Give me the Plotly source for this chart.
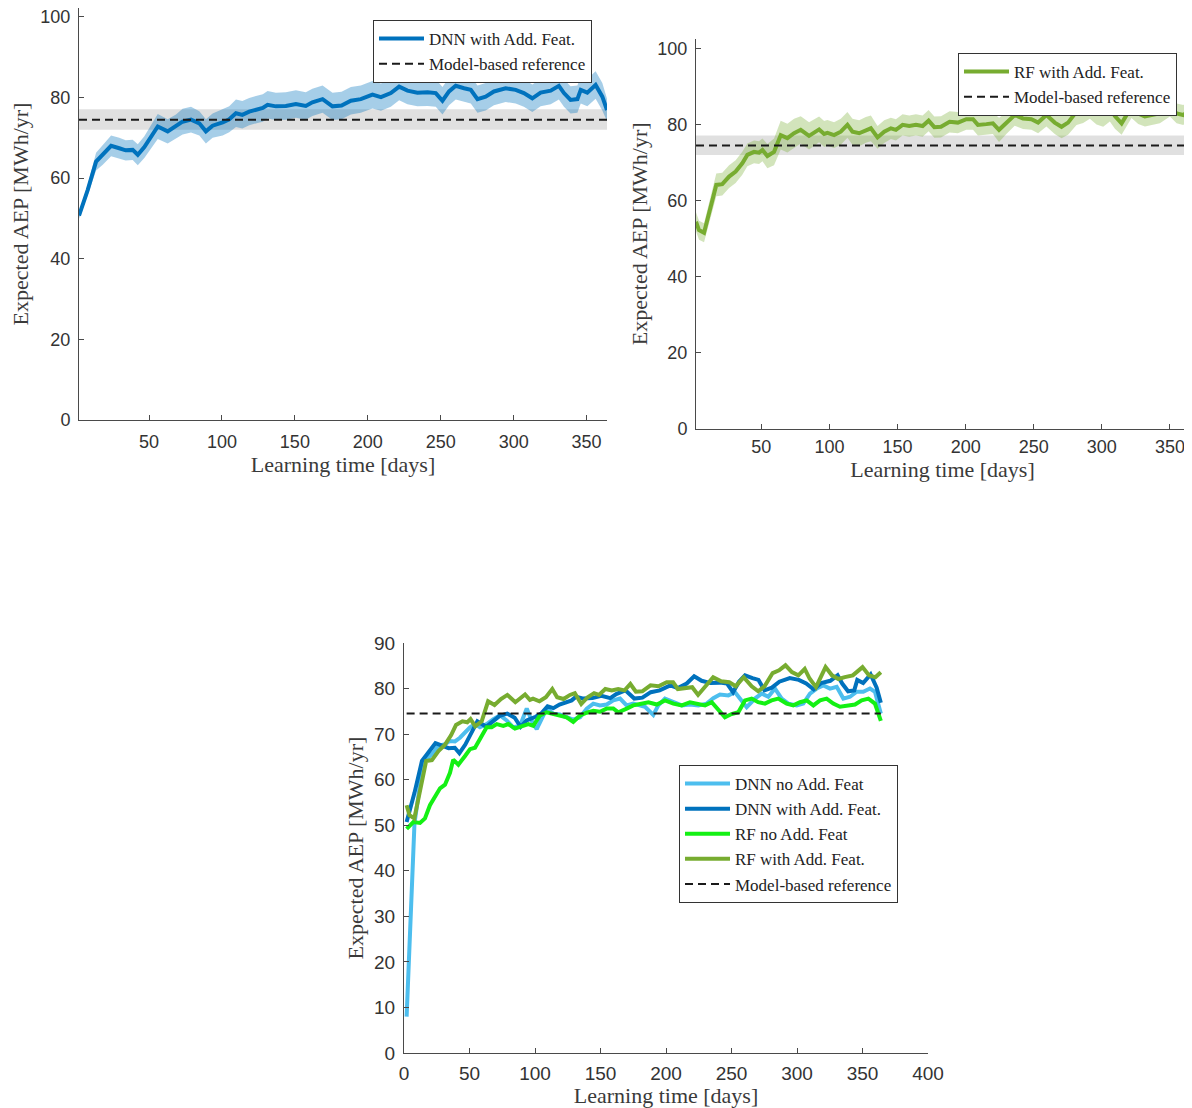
import plotly.graph_objects as go

# page is 1192x1108; the browser body adds an 8 px margin before the plot div
PAGE_W, PAGE_H = 1192, 1108
OFF = 8
W, H = PAGE_W - OFF, PAGE_H - OFF

# ---------------- data ----------------
days_dnn_add = [2, 8, 13.7, 18.3, 24, 29.6, 34, 38.8, 42.3, 46.8,
                51.4, 56, 62.8, 68.5, 73, 78.8, 84.5, 89, 93.6, 100.5,
                105, 109.6, 114, 118.7, 124.4, 128, 131.3, 137, 143.8, 150.7,
                157.5, 162, 169, 175.8, 182, 188.4, 195.2, 203.2, 209, 215.8,
                221.5, 227.2, 234, 241, 246.6, 251.2, 255.7, 260.3, 266, 270.6,
                275.2, 280.8, 286.5, 294.5, 301.4, 307, 312.8, 318.5, 325.4, 331,
                334.5, 339, 343.7, 346, 350.5, 356.2, 360.8, 364]
aep_dnn_add = [50.7, 57.1, 64.1, 65.8, 68.0, 67.4, 66.9, 67.0, 65.8, 67.7,
               70.3, 72.8, 71.6, 72.8, 74.0, 74.5, 73.6, 71.6, 73.0, 73.8,
               74.6, 76.1, 75.7, 76.5, 77.1, 77.4, 78.2, 77.8, 77.9, 78.4,
               77.9, 78.8, 79.6, 77.8, 78.0, 79.2, 79.6, 80.7, 80.1, 81.1,
               82.7, 81.7, 81.2, 81.3, 81.1, 79.2, 81.5, 82.9, 82.3, 81.9,
               79.6, 80.2, 81.5, 82.3, 81.9, 81.1, 79.8, 81.2, 81.7, 82.9,
               81.1, 79.4, 79.6, 81.9, 81.2, 83.1, 80.2, 76.9]
spread_dnn_add = [0.8, 1.3, 2.2, 2.5, 2.6, 2.6, 2.5, 2.5, 2.6, 2.7,
                  2.9, 3.1, 3.0, 3.0, 3.2, 3.2, 3.0, 3.0, 3.0, 3.2,
                  3.2, 3.4, 3.4, 3.4, 3.4, 3.4, 3.4, 3.4, 3.4, 3.4,
                  3.4, 3.4, 3.4, 3.4, 3.4, 3.4, 3.4, 3.4, 3.4, 3.4,
                  3.4, 3.4, 3.4, 3.4, 3.4, 3.4, 3.4, 3.4, 3.4, 3.4,
                  3.4, 3.4, 3.4, 3.4, 3.4, 3.4, 3.4, 3.4, 3.4, 3.4,
                  3.4, 3.4, 3.4, 3.4, 3.4, 3.4, 3.4, 2.8]

days_rf_add = [2, 4.2, 7.9, 11.5, 16.9, 21.3, 26.3, 31.1, 36, 39.7,
               44.6, 48.3, 50.8, 54.4, 59.3, 64.2, 69.1, 74, 78.9, 85,
               92.4, 96.1, 98.5, 103.4, 108.3, 113.2, 116.9, 121.8, 126.7, 130.4,
               135.3, 140.2, 145.1, 148.8, 153.7, 158.6, 163.5, 168.4, 172.8, 177,
               181.9, 188.2, 194.3, 200.5, 205.4, 209, 215.2, 220, 224.5, 229.9,
               236, 242.1, 248.3, 253.2, 259.3, 265.4, 270.4, 275.2, 281.4, 286.3,
               291.2, 296.1, 301, 305.9, 309.6, 314.5, 321.8, 326.7, 331.6, 336.5,
               342.6, 350, 354.9, 359.8, 364]
aep_rf_add = [54.4, 52.2, 51.5, 56.6, 64.1, 64.3, 66.3, 67.6, 69.8, 72.0,
              72.8, 72.6, 73.3, 71.7, 72.8, 77.2, 76.4, 77.7, 78.6, 77.0,
              78.7, 77.5, 77.8, 77.2, 78.1, 79.9, 78.1, 77.7, 78.6, 79.0,
              76.6, 78.1, 79.0, 78.6, 79.9, 79.6, 79.9, 79.6, 81.0, 79.3,
              79.4, 80.7, 80.5, 81.4, 81.4, 79.9, 80.1, 80.3, 78.6, 80.3,
              82.5, 81.6, 81.4, 80.5, 82.5, 80.5, 79.4, 80.5, 83.4, 84.0,
              85.1, 83.6, 82.9, 84.3, 82.2, 80.3, 84.7, 82.9, 82.1, 82.5,
              82.9, 84.7, 82.9, 82.5, 83.6]
spread_rf_add = [2.5, 2.5, 2.5, 2.8, 3.0, 3.0, 3.0, 3.0, 3.0, 3.0,
                 3.0, 3.0, 3.0, 3.2, 3.5, 3.8, 3.8, 3.8, 3.6, 3.6,
                 3.4, 3.4, 3.4, 3.4, 3.4, 3.4, 3.4, 3.4, 3.4, 3.4,
                 3.0, 3.0, 2.8, 2.8, 2.8, 2.8, 2.8, 2.8, 2.8, 2.8,
                 2.8, 2.8, 2.8, 2.8, 2.8, 2.8, 2.8, 2.8, 3.2, 2.8,
                 2.8, 2.8, 2.8, 2.8, 3.0, 3.0, 3.0, 3.2, 3.5, 3.6,
                 3.6, 3.6, 3.5, 3.5, 3.3, 3.0, 3.0, 2.8, 2.6, 2.6,
                 2.6, 2.6, 2.6, 2.6, 2.6]

days_dnn_no = [2, 8, 10.9, 14.7, 18.5, 22.4, 26.2, 31.3, 35.1, 38.9,
               42.7, 46.6, 50.4, 54.2, 58, 63.1, 68.2, 73.3, 78.4, 83.4,
               88.5, 93.7, 97.5, 101.3, 105.1, 108.9, 114, 119, 124.2, 129.2,
               134.4, 139.5, 144.5, 149.6, 154.7, 159.8, 164.9, 170, 175, 180.2,
               184, 190.3, 194.1, 199.2, 205.6, 212, 218.3, 224.7, 231.1, 236.1,
               241.2, 247.6, 252.7, 256.5, 261.6, 267.9, 273, 278.1, 283.2, 288.3,
               293.4, 299.8, 304.8, 309.9, 315, 320.1, 325.2, 330.3, 335.4, 340.5,
               345.6, 350.6, 355.7, 359.5, 364]
aep_dnn_no = [8.0, 50.4, 56.3, 63.7, 64.8, 65.9, 67.4, 67.8, 68.5, 68.4,
              69.2, 70.4, 71.5, 72.2, 71.5, 72.2, 73.3, 74.1, 73.0, 71.5,
              71.8, 75.6, 72.9, 71.1, 73.3, 75.6, 74.5, 74.3, 73.7, 73.2,
              73.7, 75.6, 76.7, 76.3, 76.5, 77.4, 77.8, 76.3, 76.7, 76.4,
              76.0, 74.2, 76.3, 77.8, 77.0, 76.3, 76.5, 76.3, 76.7, 77.9,
              78.7, 78.5, 79.2, 77.8, 75.9, 77.8, 78.9, 78.2, 80.0, 77.8,
              76.7, 76.3, 76.7, 78.9, 80.0, 80.7, 80.0, 80.4, 77.8, 78.2,
              79.3, 79.3, 80.0, 79.3, 74.5]

days_rf_no = [2, 7.1, 12.2, 16, 19.8, 23.7, 27.5, 31.3, 35.1, 37.6,
              41.5, 46.6, 50.4, 54.2, 58, 63.1, 66.9, 70.8, 75.8, 79.6,
              84.7, 89.8, 94.9, 98.7, 103.8, 108.9, 114, 119, 124.2, 129.2,
              134.4, 139.5, 144.5, 149.6, 154.7, 159.8, 163.6, 170, 175, 180.2,
              186.6, 193, 199.2, 205.6, 212, 218.3, 223.4, 229.8, 234.9, 240,
              245, 250.1, 255.2, 260.3, 265.4, 270.4, 275.5, 280.6, 285.7, 292.1,
              297.2, 302.3, 307.4, 312.5, 317.6, 322.6, 327.7, 332.8, 337.9, 344.3,
              349.4, 354.5, 359.5, 364]
aep_rf_no = [49.2, 50.7, 50.5, 51.5, 54.4, 56.3, 58.1, 58.9, 61.5, 64.4,
             63.3, 65.2, 66.7, 67.0, 68.9, 71.5, 71.5, 72.2, 71.8, 72.2,
             71.2, 71.8, 72.2, 71.8, 74.1, 74.8, 74.5, 74.1, 73.7, 72.7,
             74.1, 74.7, 75.1, 74.9, 75.6, 75.6, 74.8, 75.6, 76.3, 76.6,
             77.0, 76.5, 77.4, 76.7, 76.3, 77.0, 76.7, 76.3, 77.0, 75.2,
             73.7, 74.4, 74.8, 77.4, 77.8, 77.0, 76.7, 77.4, 77.8, 76.7,
             76.3, 77.0, 77.4, 76.3, 77.4, 77.8, 76.7, 76.0, 76.3, 76.5,
             77.4, 77.8, 76.7, 72.9]

ref_days = [2, 364]
ref_aep = 74.5
ref_low = 72.0
ref_high = 77.1

# ---------------- styling ----------------
C_DNN_ADD = "#0072BD"
C_DNN_NO = "#4DBEEE"
C_RF_NO = "#14F014"
C_RF_ADD = "#77AC30"
BAND_DNN = "rgba(0,114,189,0.35)"
BAND_RF = "rgba(119,172,48,0.33)"
BAND_REF = "rgba(140,140,140,0.27)"
LW = 4
SERIF = "Liberation Serif"
SANS = "Liberation Sans"
AX = "#4a4a4a"


def band(x, y, hw, color, xa, ya):
    upper = [v + h for v, h in zip(y, hw)]
    lower = [v - h for v, h in zip(y, hw)]
    return go.Scatter(x=list(x) + list(x)[::-1], y=upper + lower[::-1],
                      fill="toself", fillcolor=color, line=dict(width=0),
                      mode="lines", hoverinfo="skip", showlegend=False,
                      xaxis=xa, yaxis=ya)


def ref_band(xa, ya):
    return go.Scatter(x=ref_days + ref_days[::-1],
                      y=[ref_high, ref_high, ref_low, ref_low],
                      fill="toself", fillcolor=BAND_REF, line=dict(width=0),
                      mode="lines", hoverinfo="skip", showlegend=False,
                      xaxis=xa, yaxis=ya)


def ref_line(xa, ya, leg):
    return go.Scatter(x=ref_days, y=[ref_aep, ref_aep], mode="lines",
                      line=dict(color="#1a1a1a", width=2, dash="8px,5px"),
                      name="Model-based reference", legend=leg,
                      xaxis=xa, yaxis=ya)


fig = go.Figure()

# --- top-left: DNN with additional features
fig.add_trace(ref_band("x", "y"))
fig.add_trace(band(days_dnn_add, aep_dnn_add, spread_dnn_add, BAND_DNN, "x", "y"))
fig.add_trace(go.Scatter(x=days_dnn_add, y=aep_dnn_add, mode="lines",
                         line=dict(color=C_DNN_ADD, width=LW),
                         name="DNN with Add. Feat.", legend="legend",
                         xaxis="x", yaxis="y"))
fig.add_trace(ref_line("x", "y", "legend"))

# --- top-right: RF with additional features
fig.add_trace(ref_band("x2", "y2"))
fig.add_trace(band(days_rf_add, aep_rf_add, spread_rf_add, BAND_RF, "x2", "y2"))
fig.add_trace(go.Scatter(x=days_rf_add, y=aep_rf_add, mode="lines",
                         line=dict(color=C_RF_ADD, width=LW),
                         name="RF with Add. Feat.", legend="legend2",
                         xaxis="x2", yaxis="y2"))
fig.add_trace(ref_line("x2", "y2", "legend2"))

# --- bottom: comparison
fig.add_trace(go.Scatter(x=days_dnn_no, y=aep_dnn_no, mode="lines",
                         line=dict(color=C_DNN_NO, width=LW),
                         name="DNN no Add. Feat", legend="legend3",
                         xaxis="x3", yaxis="y3"))
fig.add_trace(go.Scatter(x=days_dnn_add, y=aep_dnn_add, mode="lines",
                         line=dict(color=C_DNN_ADD, width=LW),
                         name="DNN with Add. Feat.", legend="legend3",
                         xaxis="x3", yaxis="y3"))
fig.add_trace(go.Scatter(x=days_rf_no, y=aep_rf_no, mode="lines",
                         line=dict(color=C_RF_NO, width=LW),
                         name="RF no Add. Feat", legend="legend3",
                         xaxis="x3", yaxis="y3"))
fig.add_trace(go.Scatter(x=days_rf_add, y=aep_rf_add, mode="lines",
                         line=dict(color=C_RF_ADD, width=LW),
                         name="RF with Add. Feat.", legend="legend3",
                         xaxis="x3", yaxis="y3"))
fig.add_trace(ref_line("x3", "y3", "legend3"))


# positions are given in page pixels and converted to figure fractions
def fx(p):
    return min(max((p - OFF) / W, 0), 1)


def fy(p):
    return min(max(1 - (p - OFF) / H, 0), 1)


def xdom(a, b):
    return [fx(a), fx(b)]


def ydom(top, bottom):
    return [fy(bottom), fy(top)]


def axis_common(size, standoff):
    return dict(showline=True, linecolor=AX, linewidth=1, ticks="inside",
                ticklen=5, tickcolor=AX, showgrid=False, zeroline=False,
                mirror=False, automargin=False, ticklabelstandoff=standoff,
                ticklabeloverflow="allow",
                tickfont=dict(family=SANS, size=size, color="#333333"))


def xt(text, standoff):
    return dict(text=text, font=dict(family=SERIF, size=22, color="#3a3a3a"),
                standoff=standoff)


layout = dict(
    width=W, height=H, paper_bgcolor="white", plot_bgcolor="white",
    margin=dict(l=0, r=0, t=0, b=0, autoexpand=False), showlegend=True,
    xaxis=dict(domain=xdom(79, 607), range=[2, 364], anchor="y",
               tickvals=[50, 100, 150, 200, 250, 300, 350],
               title=xt("Learning time [days]", 5), **axis_common(18, 5)),
    yaxis=dict(domain=ydom(8, 420), range=[0, 102.2], anchor="x",
               tickvals=[0, 20, 40, 60, 80, 100],
               title=xt("Expected AEP [MWh/yr]", 17), **axis_common(18, 4)),
    xaxis2=dict(domain=xdom(696, 1189), range=[2, 364], anchor="y2",
                tickvals=[50, 100, 150, 200, 250, 300, 350],
                title=xt("Learning time [days]", 1), **axis_common(18, 2)),
    yaxis2=dict(domain=ydom(39, 428.5), range=[0, 102.5], anchor="x2",
                tickvals=[0, 20, 40, 60, 80, 100],
                title=xt("Expected AEP [MWh/yr]", 3), **axis_common(18, 4)),
    xaxis3=dict(domain=xdom(404, 928), range=[0, 400], anchor="y3",
                tickvals=[0, 50, 100, 150, 200, 250, 300, 350, 400],
                title=xt("Learning time [days]", 6), **axis_common(19, 3)),
    yaxis3=dict(domain=ydom(643, 1053), range=[0, 90], anchor="x3",
                tickvals=[0, 10, 20, 30, 40, 50, 60, 70, 80, 90],
                title=xt("Expected AEP [MWh/yr]", 4), **axis_common(19, 4)),
)

leg_common = dict(bgcolor="white", bordercolor="#333333", borderwidth=1,
                  font=dict(family=SERIF, size=17, color="#222222"),
                  itemwidth=45, tracegroupgap=0)
layout["legend"] = dict(x=fx(592), y=fy(20), xanchor="right", yanchor="top", **leg_common)
layout["legend2"] = dict(x=fx(1177), y=fy(53), xanchor="right", yanchor="top", **leg_common)
layout["legend3"] = dict(x=fx(679), y=fy(765), xanchor="left", yanchor="top", **leg_common)

fig.update_layout(**layout)
fig.write_html("out.html")
